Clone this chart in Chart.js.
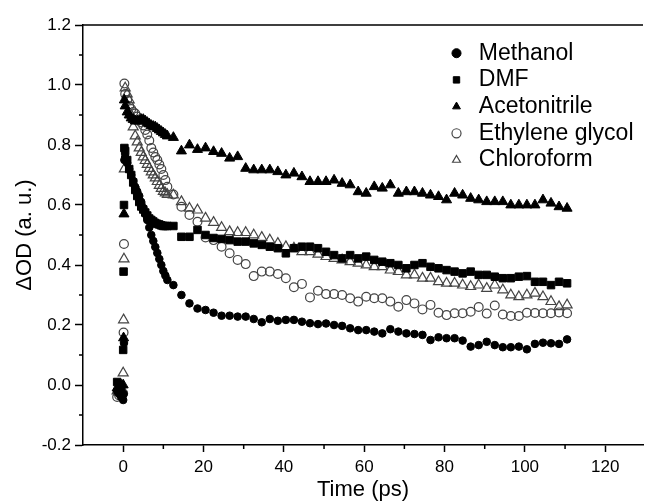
<!DOCTYPE html>
<html>
<head>
<meta charset="utf-8">
<script src="https://cdn.jsdelivr.net/npm/chart.js@4.4.0/dist/chart.umd.min.js"></script>
<style>
    html, body { margin: 0; padding: 0; background: #fff; overflow: hidden; }
    #wrap { width: 650px; height: 502px; position: relative; }
</style>
</head>
<body>
<div id="wrap"><canvas id="decayChart"></canvas></div>
<script>
// pump-probe delays (ps), same for every solvent
const times = [-1.5, -1, -0.5, 0, 0.1, 0.2, 0.3,
    0.5, 1, 1.5, 2, 2.5, 3, 3.5, 4, 4.5, 5, 5.5, 6, 6.5, 7, 7.5, 8, 8.5, 9, 9.5, 10, 10.5, 11,
    12.5, 14.5, 16.5, 18.5, 20.5, 22.5, 24.5, 26.5, 28.5, 30.5, 32.5, 34.5, 36.5, 38.5, 40.5,
    42.5, 44.5, 46.5, 48.5, 50.5, 52.5, 54.5, 56.5, 58.5, 60.5, 62.5, 64.5, 66.5, 68.5, 70.5,
    72.5, 74.5, 76.5, 78.5, 80.5, 82.5, 84.5, 86.5, 88.5, 90.5, 92.5, 94.5, 96.5, 98.5, 100.5,
    102.5, 104.5, 106.5, 108.5, 110.5];

const methanol = [-0.02, -0.03, -0.04, -0.05, -0.03, 0.14, 0.75,
    0.76, 0.74, 0.72, 0.70, 0.68, 0.66, 0.645, 0.63, 0.61, 0.59, 0.57, 0.55, 0.525, 0.50, 0.48,
    0.46, 0.44, 0.42, 0.40, 0.38, 0.365, 0.35,
    0.333, 0.30, 0.272, 0.255, 0.25, 0.241, 0.231, 0.231, 0.228, 0.228,
    0.22, 0.209, 0.22, 0.214, 0.217, 0.217, 0.211, 0.206, 0.203, 0.205,
    0.20, 0.197, 0.189, 0.183, 0.183, 0.178, 0.172, 0.186, 0.178, 0.172,
    0.17, 0.167, 0.15, 0.159, 0.156, 0.156, 0.148, 0.128, 0.133, 0.144,
    0.133, 0.126, 0.126, 0.128, 0.119, 0.137, 0.141, 0.139, 0.137, 0.152];

const dmf = [0.01, 0.0, -0.01, 0.117, 0.378, 0.60, 0.79,
    0.78, 0.75, 0.72, 0.70, 0.675, 0.65, 0.63, 0.61, 0.595, 0.585, 0.575, 0.565, 0.555, 0.55, 0.545,
    0.54, 0.537, 0.535, 0.532, 0.53, 0.53, 0.53,
    0.53, 0.494, 0.494, 0.517, 0.50, 0.49, 0.487, 0.483, 0.478, 0.478,
    0.472, 0.467, 0.461, 0.456, 0.439, 0.456, 0.461, 0.461, 0.456, 0.444,
    0.433, 0.422, 0.433, 0.422, 0.428, 0.417, 0.411, 0.406, 0.40, 0.389,
    0.40, 0.406, 0.394, 0.389, 0.383, 0.378, 0.372, 0.378, 0.367, 0.367,
    0.361, 0.356, 0.356, 0.361, 0.363, 0.344, 0.344, 0.333, 0.344, 0.339];

const acetonitrile = [-0.01, -0.02, 0.0, 0.0, 0.157, 0.57, 0.95,
    0.93, 0.91, 0.90, 0.89, 0.885, 0.88, 0.88, 0.88, 0.885, 0.885, 0.88, 0.875, 0.87, 0.865, 0.862,
    0.86, 0.855, 0.85, 0.845, 0.84, 0.835, 0.83,
    0.825, 0.78, 0.80, 0.785, 0.79, 0.778, 0.772, 0.756, 0.761, 0.722,
    0.717, 0.717, 0.717, 0.711, 0.70, 0.706, 0.694, 0.678, 0.678, 0.678,
    0.683, 0.672, 0.667, 0.644, 0.639, 0.661, 0.656, 0.667, 0.639, 0.644,
    0.644, 0.639, 0.633, 0.628, 0.617, 0.639, 0.633, 0.622, 0.617, 0.611,
    0.611, 0.611, 0.60, 0.60, 0.60, 0.60, 0.617, 0.606, 0.594, 0.589];

const ethyleneGlycol = [-0.04, -0.035, -0.03, -0.028, 0.175, 0.47, 1.005,
    0.97, 0.95, 0.93, 0.92, 0.91, 0.905, 0.895, 0.885, 0.875, 0.865, 0.85, 0.835, 0.815, 0.79, 0.775,
    0.76, 0.75, 0.735, 0.72, 0.70, 0.683, 0.661,
    0.635, 0.594, 0.567, 0.544, 0.492, 0.483, 0.461, 0.439, 0.417, 0.403,
    0.363, 0.378, 0.378, 0.37, 0.356, 0.326, 0.337, 0.292, 0.314, 0.303,
    0.303, 0.30, 0.289, 0.278, 0.294, 0.289, 0.289, 0.278, 0.261, 0.283,
    0.272, 0.252, 0.267, 0.241, 0.233, 0.239, 0.239, 0.244, 0.26, 0.238,
    0.265, 0.235, 0.23, 0.23, 0.241, 0.24, 0.239, 0.239, 0.242, 0.239];

const chloroform = [-0.02, -0.025, -0.015, 0.04, 0.217, 0.42, 0.72,
    0.99, 0.97, 0.95, 0.90, 0.86, 0.83, 0.81, 0.79, 0.775, 0.76, 0.748, 0.735, 0.722, 0.71, 0.70,
    0.69, 0.678, 0.665, 0.655, 0.645, 0.64, 0.635,
    0.633, 0.611, 0.589, 0.583, 0.556, 0.542, 0.525, 0.511, 0.508, 0.508,
    0.50, 0.492, 0.483, 0.472, 0.461, 0.456, 0.444, 0.444, 0.436, 0.428,
    0.422, 0.417, 0.411, 0.406, 0.40, 0.394, 0.394, 0.383, 0.378, 0.367,
    0.367, 0.356, 0.356, 0.344, 0.339, 0.339, 0.333, 0.328, 0.333, 0.322,
    0.333, 0.317, 0.30, 0.294, 0.30, 0.306, 0.294, 0.278, 0.261, 0.267];

// ticks
const xMajorTicks = [0, 20, 40, 60, 80, 100, 120];
const xMinorTicks = [-10, 10, 30, 50, 70, 90, 110];
const yMajorTicks = [-0.2, 0.0, 0.2, 0.4, 0.6, 0.8, 1.0, 1.2];
const yMinorTicks = [-0.1, 0.1, 0.3, 0.5, 0.7, 0.9, 1.1];

Chart.defaults.font.family = '"Liberation Sans", Arial, Helvetica, sans-serif';
Chart.defaults.color = '#000';

function makeSeries(label, values, style) {
    return Object.assign({
        label: label,
        data: times.map((t, i) => ({ x: t, y: values[i] }))
    }, style);
}

const filled = { backgroundColor: '#000', borderColor: '#000', borderWidth: 1 };
const hollow = { backgroundColor: 'rgba(0,0,0,0)', borderColor: '#444', borderWidth: 1.2 };

// small minor ticks + top frame line
const frameAndMinor = {
    id: 'frameAndMinor',
    afterDraw(chart) {
        const { ctx, chartArea, scales } = chart;
        ctx.save();
        ctx.strokeStyle = '#000';
        ctx.lineWidth = 1.5;
        ctx.beginPath();
        xMinorTicks.forEach(v => {
            const px = scales.x.getPixelForValue(v);
            if (px > chartArea.left + 1 && px < chartArea.right) {
                ctx.moveTo(px, chartArea.bottom);
                ctx.lineTo(px, chartArea.bottom + 4);
            }
        });
        yMinorTicks.forEach(v => {
            const py = scales.y.getPixelForValue(v);
            ctx.moveTo(chartArea.left, py);
            ctx.lineTo(chartArea.left - 4, py);
        });
        ctx.moveTo(chartArea.left, chartArea.top);
        ctx.lineTo(chartArea.right, chartArea.top);
        ctx.stroke();
        ctx.restore();
    }
};

// move the legend box into the upper right of the plot
const legendSpot = {
    id: 'legendSpot',
    afterLayout(chart) {
        const lg = chart.legend;
        if (!lg) return;
        lg.left = 442;
        lg.top = 38;
        lg.right = lg.left + lg.width;
    }
};

const ctx = document.getElementById('decayChart');
new Chart(ctx, {
    type: 'scatter',
    data: {
        datasets: [
            makeSeries('Methanol', methanol, Object.assign({ pointStyle: 'circle', pointRadius: 3.8 }, filled)),
            makeSeries('DMF', dmf, Object.assign({ pointStyle: 'rect', pointRadius: 5.3 }, filled)),
            makeSeries('Acetonitrile', acetonitrile, Object.assign({ pointStyle: 'triangle', pointRadius: 5.8 }, filled)),
            makeSeries('Ethylene glycol', ethyleneGlycol, Object.assign({ pointStyle: 'circle', pointRadius: 4.4 }, hollow)),
            makeSeries('Chloroform', chloroform, Object.assign({ pointStyle: 'triangle', pointRadius: 5.8 }, hollow))
        ]
    },
    options: {
        responsive: true,
        maintainAspectRatio: false,
        animation: false,
        layout: { padding: { top: 25, left: 0, right: 0, bottom: 0 } },
        scales: {
            x: {
                type: 'linear',
                min: -10,
                max: 129.4,
                afterBuildTicks: s => { s.ticks = xMajorTicks.map(v => ({ value: v })); },
                afterFit: s => { s.height = 57; },
                ticks: { font: { size: 17 }, padding: 5, maxRotation: 0, color: '#000' },
                grid: { drawOnChartArea: false, drawTicks: true, tickLength: 7, tickWidth: 1.5, tickColor: '#000' },
                border: { display: true, color: '#000', width: 1.5 },
                title: { display: true, text: 'Time (ps)', font: { size: 22, lineHeight: 1.1 }, padding: { top: 0, bottom: 0 }, color: '#000' }
            },
            y: {
                min: -0.2,
                max: 1.2,
                afterBuildTicks: s => { s.ticks = yMajorTicks.map(v => ({ value: v })); },
                afterFit: s => { s.width = 83; },
                ticks: { font: { size: 17 }, padding: 4, color: '#000', callback: v => Number(v).toFixed(1) },
                grid: { drawOnChartArea: false, drawTicks: true, tickLength: 8, tickWidth: 1.5, tickColor: '#000' },
                border: { display: true, color: '#000', width: 1.5 },
                title: { display: true, text: 'ΔOD (a. u.)', font: { size: 22, lineHeight: 1.2 }, padding: { top: 12, bottom: 0 }, color: '#000' }
            }
        },
        plugins: {
            legend: {
                position: 'chartArea',
                align: 'start',
                labels: {
                    usePointStyle: true,
                    boxHeight: 6.4,
                    boxWidth: 21.6,
                    padding: 3.7,
                    font: { size: 23 },
                    color: '#000'
                }
            },
            tooltip: { enabled: false }
        }
    },
    plugins: [frameAndMinor, legendSpot]
});
</script>
</body>
</html>
